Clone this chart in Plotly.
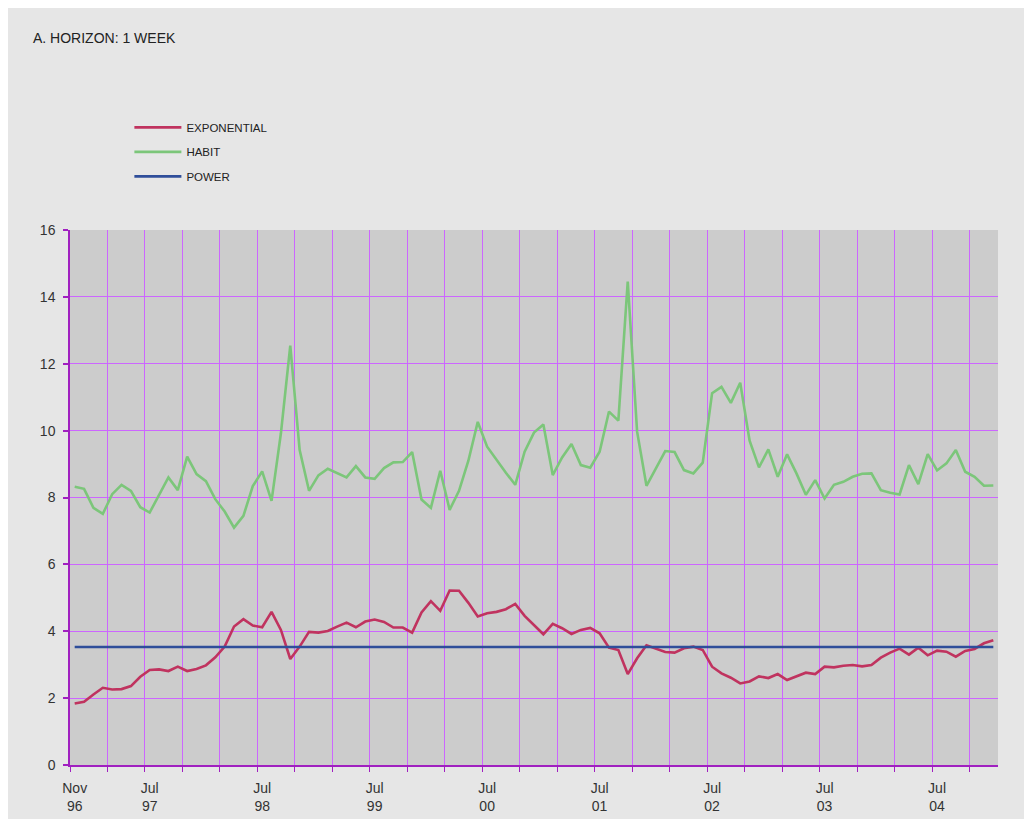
import plotly.graph_objects as go
import pandas as pd

# Monthly categories Nov 1996 .. Jan 2005
months = [d.strftime("%b %y") for d in pd.date_range("1996-11-01", periods=99, freq="MS")]
x_idx = list(range(len(months)))

exponential = [
    1.84, 1.89, 2.11, 2.31, 2.26, 2.27, 2.36, 2.64, 2.84, 2.86,
    2.81, 2.94, 2.81, 2.87, 2.98, 3.22, 3.54, 4.14, 4.36, 4.17,
    4.12, 4.58, 4.04, 3.17, 3.54, 3.98, 3.96, 4.01, 4.14, 4.26,
    4.12, 4.29, 4.35, 4.28, 4.11, 4.11, 3.96, 4.56, 4.90, 4.61,
    5.22, 5.21, 4.85, 4.44, 4.54, 4.58, 4.66, 4.82, 4.46, 4.19,
    3.91, 4.22, 4.09, 3.92, 4.04, 4.10, 3.94, 3.51, 3.44, 2.72,
    3.19, 3.58, 3.49, 3.38, 3.36, 3.49, 3.54, 3.44, 2.94, 2.74,
    2.61, 2.44, 2.50, 2.65, 2.60, 2.72, 2.54, 2.64, 2.76, 2.72,
    2.94, 2.92, 2.97, 2.99, 2.95, 2.99, 3.21, 3.36, 3.48, 3.30,
    3.51, 3.28, 3.42, 3.39, 3.24, 3.41, 3.47, 3.64, 3.73,
]

habit = [
    8.32, 8.26, 7.69, 7.51, 8.10, 8.38, 8.20, 7.71, 7.55, 8.07,
    8.60, 8.22, 9.22, 8.70, 8.49, 7.95, 7.58, 7.10, 7.45, 8.34,
    8.78, 7.90, 9.92, 12.54, 9.42, 8.20, 8.66, 8.86, 8.72, 8.60,
    8.94, 8.60, 8.56, 8.88, 9.05, 9.06, 9.36, 7.94, 7.69, 8.80,
    7.63, 8.20, 9.10, 10.26, 9.52, 9.12, 8.74, 8.38, 9.37, 9.94,
    10.18, 8.67, 9.20, 9.60, 8.97, 8.89, 9.37, 10.57, 10.30, 14.46,
    9.97, 8.35, 8.87, 9.39, 9.36, 8.82, 8.72, 9.04, 11.12, 11.31,
    10.83, 11.43, 9.70, 8.90, 9.44, 8.62, 9.29, 8.72, 8.08, 8.52,
    7.97, 8.38, 8.47, 8.62, 8.71, 8.72, 8.22, 8.14, 8.09, 8.97,
    8.40, 9.30, 8.81, 9.02, 9.42, 8.77, 8.62, 8.35, 8.36,
]

power = [3.53] * len(months)

tick_months = ["Nov 96", "Jul 97", "Jul 98", "Jul 99", "Jul 00",
               "Jul 01", "Jul 02", "Jul 03", "Jul 04"]
tick_pos = [months.index(m) for m in tick_months]
tick_text = [m.replace(" ", "<br>") for m in tick_months]

FONT = "Liberation Sans, Arial, sans-serif"
GRID = "#cc66ff"
AXIS = "#a020c0"

fig = go.Figure()
fig.add_trace(go.Scatter(x=x_idx, y=exponential, mode="lines", name="EXPONENTIAL",
                         legendgroup="a", line=dict(color="#c0335f", width=2.6)))
fig.add_trace(go.Scatter(x=x_idx, y=habit, mode="lines", name="HABIT",
                         legendgroup="b", line=dict(color="#7cc67a", width=2.6)))
fig.add_trace(go.Scatter(x=x_idx, y=power, mode="lines", name="POWER",
                         legendgroup="c", line=dict(color="#2f4e9a", width=2.6)))

fig.update_layout(
    width=1032, height=819,
    margin=dict(l=62, r=42, t=222, b=62),
    paper_bgcolor="#e6e6e6",
    plot_bgcolor="#cccccc",
    font=dict(family=FONT, size=14, color="#333333"),
    title=dict(text="A. HORIZON: 1 WEEK", xref="container", yref="container",
               x=25/1032, xanchor="left", y=1-30/819, yanchor="middle",
               font=dict(family=FONT, size=14, color="#222222")),
    showlegend=True,
    legend=dict(x=0.064, y=1.219, xanchor="left", yanchor="top",
                bgcolor="rgba(0,0,0,0)", traceorder="grouped", tracegroupgap=5.5,
                font=dict(family=FONT, size=11.5, color="#222222"),
                itemwidth=47),
    xaxis=dict(range=[-0.5, 98.5], tickmode="array", tickvals=tick_pos, ticktext=tick_text,
               ticks="", showgrid=False, zeroline=False, ticklabelstandoff=9,
               showline=True, linecolor=AXIS, linewidth=1.5,
               tickfont=dict(family=FONT, size=14, color="#333333"),
               minor=dict(tickmode="linear", tick0=-0.5, dtick=4, ticks="outside",
                          ticklen=5, tickcolor=AXIS, tickwidth=1,
                          showgrid=True, gridcolor=GRID, gridwidth=1)),
    yaxis=dict(range=[0, 16], tickmode="linear", tick0=0, dtick=2,
               ticks="outside", ticklen=5, tickcolor=AXIS, tickwidth=1.5,
               ticklabelstandoff=5,
               showgrid=True, gridcolor=GRID, gridwidth=1, zeroline=False,
               showline=True, linecolor=AXIS, linewidth=1.5,
               tickfont=dict(family=FONT, size=14, color="#333333")),
)

fig.write_html("out.html")
